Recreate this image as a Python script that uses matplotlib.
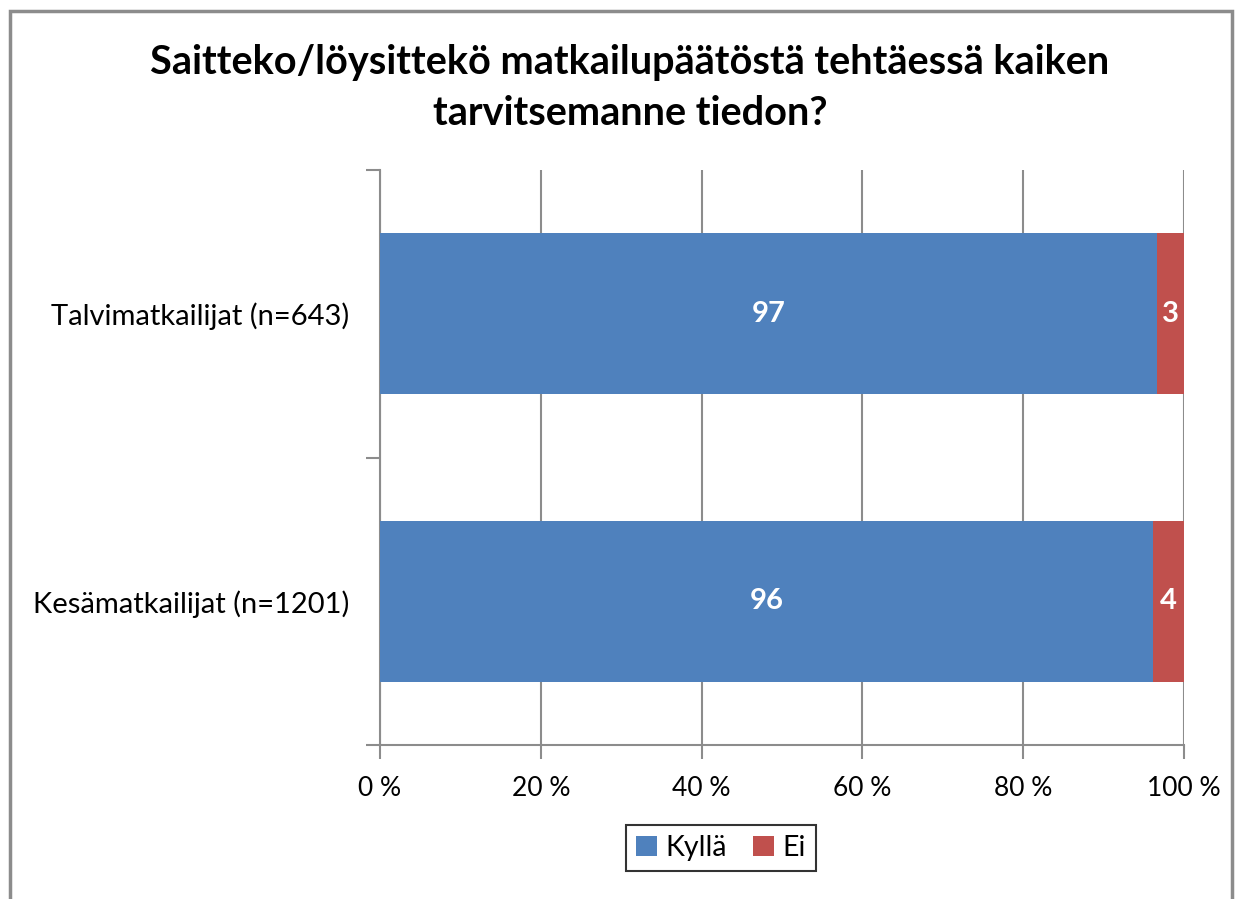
import numpy as np
import matplotlib.pyplot as plt
from matplotlib.patches import Rectangle

plt.rcParams['font.family'] = ['Lato', 'DejaVu Sans']

categories = ['Kesämatkailijat (n=1201)', 'Talvimatkailijat (n=643)']
kylla = [96.1, 96.6]
ei = [3.9, 3.4]
kylla_labels = ['96', '97']
ei_labels = ['4', '3']
series_names = ['Kyllä', 'Ei']
colors = ['#4f81bd', '#c0504d']
grid_color = '#8c8c8c'

W, H = 1239, 899
fig = plt.figure(figsize=(W / 100, H / 100), dpi=100)

# outer chart border
fig.patches.append(Rectangle((10 / W, -0.01), (1232 - 10) / W, 1 - 11 / H + 0.01,
                             transform=fig.transFigure, fill=False,
                             ec='#8c8c8c', lw=2.5))

ax = fig.add_axes([380 / W, 1 - 745 / H, (1184 - 380) / W, (745 - 170) / H])

y = np.arange(len(categories))
h = 0.56
ax.barh(y, kylla, height=h, color=colors[0], label=series_names[0], zorder=3)
ax.barh(y, ei, left=kylla, height=h, color=colors[1], label=series_names[1], zorder=3)

for i in range(len(categories)):
    ax.text(kylla[i] / 2, y[i], kylla_labels[i], ha='center', va='center',
            color='white', fontsize=21, fontweight='bold', zorder=4)
    ax.text(kylla[i] + ei[i] / 2, y[i], ei_labels[i], ha='center', va='center',
            color='white', fontsize=21, fontweight='bold', zorder=4)

ax.set_xlim(0, 100)
ax.set_ylim(-0.5, 1.5)
ax.set_xticks(np.arange(0, 101, 20))
ax.set_xticklabels(['%d %%' % v for v in range(0, 101, 20)], fontsize=19)
ax.set_yticks([-0.5, 0.5, 1.5])
ax.set_yticklabels([])
ax.set_yticks(y, minor=True)
ax.set_yticklabels(categories, minor=True, fontsize=21)
ax.tick_params(axis='y', which='minor', length=0, pad=22)
ax.tick_params(axis='y', which='major', length=10, color=grid_color, width=1.5)
ax.tick_params(axis='x', length=10, color=grid_color, width=1.5, pad=12)

ax.grid(axis='x', color=grid_color, lw=1.5, zorder=0)
for s in ['top', 'right']:
    ax.spines[s].set_visible(False)
for s in ['left', 'bottom']:
    ax.spines[s].set_color(grid_color)
    ax.spines[s].set_linewidth(1.5)

fig.text(630 / W, 1 - 88 / H,
         'Saitteko/löysittekö matkailupäätöstä tehtäessä kaiken\ntarvitsemanne tiedon?',
         ha='center', va='center', fontsize=28.5, fontweight='bold', linespacing=1.45)

leg = fig.legend(loc='center', bbox_to_anchor=(721 / W, 1 - 848 / H), ncol=2,
                 fontsize=20.5, frameon=True, fancybox=False, handlelength=0.75,
                 handleheight=0.75, handletextpad=0.3, columnspacing=0.9,
                 borderpad=0.35, borderaxespad=0, edgecolor='black')
leg.get_frame().set_linewidth(1.5)

fig.savefig('out.png', dpi=100)
